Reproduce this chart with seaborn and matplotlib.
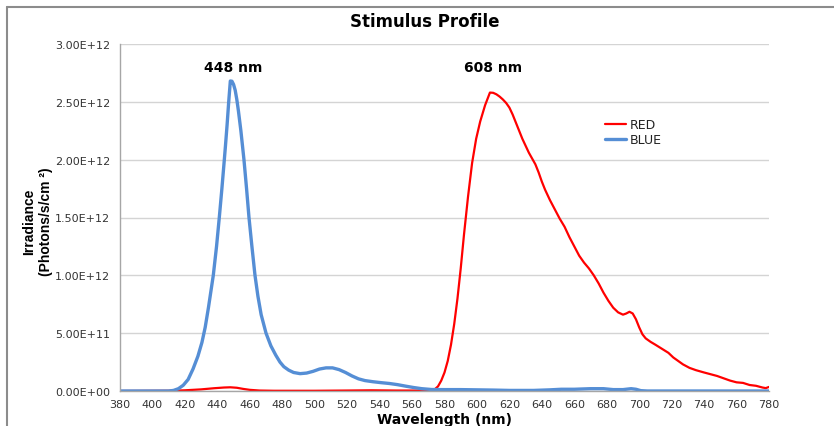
import matplotlib
matplotlib.use("Agg")
import matplotlib.pyplot as plt
from matplotlib.lines import Line2D
from matplotlib.ticker import FuncFormatter
from matplotlib import font_manager
import numpy as np
import pandas as pd
import seaborn as sns

# Spectral irradiance of the two stimulus LEDs (photons/s/cm^2, in units of 1e12)
blue_wl = [380, 400, 410, 413, 416, 419, 422, 425, 428, 430.5, 432.5, 434.5, 436, 437.5,
           439.5, 441.2, 442.8, 444.3, 445, 446, 447, 448, 449, 450, 451, 452, 453, 454.5,
           456.4, 458, 459.5, 461.3, 463.2, 465, 467, 470, 473, 476, 478.6, 481, 484, 487,
           491, 495, 499, 503, 507, 511, 515, 519, 523, 527, 531, 536, 541, 546, 551, 556,
           561, 566, 572, 580, 590, 600, 610, 620, 635, 645, 652, 660, 670, 678, 684, 690,
           695, 698, 701, 705, 780]
blue_val = [0, 0, 0, 0.005, 0.02, 0.05, 0.1, 0.19, 0.3, 0.42, 0.55, 0.72, 0.86, 1.0,
            1.25, 1.5, 1.75, 2.0, 2.12, 2.3, 2.5, 2.68, 2.678, 2.65, 2.6, 2.52, 2.42, 2.25,
            2.0, 1.75, 1.5, 1.25, 1.0, 0.82, 0.66, 0.5, 0.39, 0.31, 0.25, 0.21, 0.18, 0.16,
            0.15, 0.155, 0.17, 0.19, 0.2, 0.2, 0.185, 0.16, 0.13, 0.105, 0.09, 0.08, 0.072,
            0.065, 0.055, 0.042, 0.03, 0.02, 0.013, 0.012, 0.012, 0.01, 0.008, 0.005, 0.005,
            0.01, 0.015, 0.015, 0.02, 0.02, 0.012, 0.012, 0.02, 0.015, 0.003, 0, 0]

red_wl = [380, 410, 420, 430, 438, 444, 448, 452, 456, 460, 466, 475, 500, 520, 535, 550,
          565, 572, 574, 576, 578, 580, 582, 584, 586, 588, 590, 592, 594.5, 597, 599.5,
          602, 605, 608, 610, 612, 614, 616, 618, 620, 622, 624, 626, 628, 630, 632, 634,
          636, 638, 640, 642, 645, 648, 651, 654, 657, 660, 663, 666, 669, 672, 675, 678,
          681, 684, 687, 690, 692, 694, 696, 698, 700, 702, 704, 707, 710, 714, 718, 721,
          724, 727, 731, 735, 740, 744, 748, 752, 756, 760, 764, 768, 772, 776, 778, 780]
red_val = [0, 0.002, 0.006, 0.014, 0.024, 0.03, 0.032, 0.028, 0.018, 0.01, 0.004, 0.002,
           0.002, 0.004, 0.006, 0.004, 0.004, 0.005, 0.015, 0.04, 0.09, 0.16, 0.26, 0.40,
           0.58, 0.80, 1.06, 1.35, 1.68, 1.97, 2.18, 2.33, 2.47, 2.58, 2.578, 2.565, 2.545,
           2.52, 2.49, 2.45, 2.39, 2.32, 2.25, 2.18, 2.12, 2.06, 2.01, 1.96, 1.89, 1.81,
           1.74, 1.65, 1.57, 1.49, 1.42, 1.33, 1.25, 1.17, 1.11, 1.06, 1.0, 0.93, 0.85,
           0.78, 0.72, 0.68, 0.66, 0.67, 0.685, 0.67, 0.62, 0.55, 0.49, 0.455, 0.425, 0.40,
           0.365, 0.33, 0.29, 0.26, 0.23, 0.20, 0.18, 0.16, 0.145, 0.13, 0.11, 0.09, 0.075,
           0.07, 0.052, 0.045, 0.03, 0.025, 0.035]

peak_wl = [448, 608]
label_height = 2.74  # baseline height of the peak labels, 1e12 units

x_ticks = list(range(380, 781, 20))
y_ticks = [0, 0.5e12, 1.0e12, 1.5e12, 2.0e12, 2.5e12, 3.0e12]

SCALE = 1e12
df = pd.concat([
    pd.DataFrame({"wl": red_wl, "irr": np.array(red_val) * SCALE, "series": "RED"}),
    pd.DataFrame({"wl": blue_wl, "irr": np.array(blue_val) * SCALE, "series": "BLUE"}),
])

sns.set_theme(style="white")
plt.rcParams["font.family"] = ["DejaVu Sans"]
plt.rcParams["text.color"] = "black"

narrow = "Liberation Sans Narrow"
available = {f.name for f in font_manager.fontManager.ttflist}
label_family = narrow if narrow in available else "Liberation Sans"

fig = plt.figure(figsize=(8.34, 4.27), dpi=100)
ax = fig.add_axes([120 / 834, 35 / 427, 649 / 834, 347 / 427])

line_kw = dict(sort=False, estimator=None, solid_joinstyle="round", solid_capstyle="round")
sns.lineplot(data=df[df.series == "RED"], x="wl", y="irr", color="#FF0000",
             linewidth=1.6, label="RED", ax=ax, **line_kw)
sns.lineplot(data=df[df.series == "BLUE"], x="wl", y="irr", color="#558ED5",
             linewidth=2.4, label="BLUE", ax=ax, **line_kw)

ax.set_xlim(380, 780)
ax.set_ylim(0, 3.0e12)
ax.set_xticks(x_ticks)
ax.set_yticks(y_ticks)
ax.yaxis.set_major_formatter(FuncFormatter(lambda v, p: f"{v:.2E}"))
ax.grid(axis="y", color="#D4D4D4", linewidth=1.0)
ax.grid(axis="x", visible=False)
ax.set_axisbelow(True)

for side in ("top", "right"):
    ax.spines[side].set_visible(False)
for side in ("left", "bottom"):
    ax.spines[side].set_color("#A6A6A6")
    ax.spines[side].set_linewidth(1.0)

ax.tick_params(axis="both", which="major", direction="out", length=4, width=0.8,
               color="#A6A6A6", labelsize=8, labelcolor="#333333", pad=3)
ax.tick_params(axis="x", pad=2)

ax.set_xlabel("Wavelength (nm)", fontsize=10, fontweight="bold", labelpad=2, color="black")
ax.set_ylabel("")

fig.text(38 / 834, 1 - 222 / 427, "Irradiance\n(Photons/s/cm ²)",
         rotation=90, ha="center", va="center", multialignment="center",
         family=label_family, fontsize=10, fontweight="bold", linespacing=1.25,
         color="black")

fig.text(425 / 834, 1 - 22 / 427, "Stimulus Profile", ha="center", va="center",
         fontsize=12, fontweight="bold", color="black")

for wl in peak_wl:
    ax.annotate(f"{wl} nm", xy=(wl, label_height * SCALE), xytext=(2, 0),
                textcoords="offset points", ha="center", va="bottom",
                fontsize=10, fontweight="bold", color="black")

leg = ax.legend(loc="upper left", bbox_to_anchor=(605 / 834, 1 - 119 / 427),
                bbox_transform=fig.transFigure, frameon=False, fontsize=9,
                handlelength=1.7, handletextpad=0.3, labelspacing=0.15,
                borderpad=0, borderaxespad=0)
for t in leg.get_texts():
    t.set_color("#222222")

# outer frame
fig.add_artist(Line2D([7 / 834, 1], [1 - 8 / 427, 1 - 8 / 427], transform=fig.transFigure,
                      color="#8C8C8C", linewidth=1.5))
fig.add_artist(Line2D([7 / 834, 7 / 834], [0, 1 - 8 / 427], transform=fig.transFigure,
                      color="#8C8C8C", linewidth=1.5))

fig.savefig("out.png", dpi=100)
